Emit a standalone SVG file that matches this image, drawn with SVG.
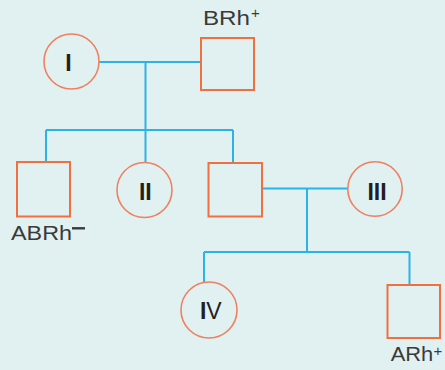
<svg xmlns="http://www.w3.org/2000/svg" width="445" height="370" viewBox="0 0 445 370">
<style>
.bg{fill:#e1f1f2}
.f{fill:none;stroke:#f0805f;stroke-width:1.6}
.m{fill:none;stroke:#f2703f;stroke-width:2}
.c{stroke:#2bb3e8;stroke-width:2;fill:none}
.n{font-family:"Liberation Sans",Arial,sans-serif;font-weight:bold;font-size:23px;fill:#231f20;text-anchor:middle}
.l{font-family:"Liberation Sans",Arial,sans-serif;font-size:20px;fill:#3a3a3a}
.s{font-family:"Liberation Sans",Arial,sans-serif;font-size:15px;fill:#3a3a3a}
</style>
<rect class="bg" x="0" y="0" width="445" height="370"/>
<g id="connectors">
<path class="c" d="M99 62H200"/>
<path class="c" d="M145.5 62V162.5"/>
<path class="c" d="M46 130H233"/>
<path class="c" d="M46 130V162"/>
<path class="c" d="M233 130V163"/>
<path class="c" d="M262 188.5H348"/>
<path class="c" d="M307 188.5V252"/>
<path class="c" d="M204 252H409.5"/>
<path class="c" d="M204 252V282.5"/>
<path class="c" d="M409.5 252V285"/>
</g>
<g id="node-I">
<circle class="f" cx="71.5" cy="61.5" r="27.5"/>
<text class="n" x="68.5" y="70.5">I</text>
</g>
<g id="node-BRh">
<rect class="m" x="201" y="38" width="53" height="52"/>
<text class="l" x="203" y="25" textLength="47" lengthAdjust="spacingAndGlyphs">BRh</text>
<text class="s" x="251" y="17.5">+</text>
</g>
<g id="node-ABRh">
<rect class="m" x="17" y="162" width="53" height="54.5"/>
<text class="l" x="11" y="240" textLength="61" lengthAdjust="spacingAndGlyphs">ABRh</text>
<path d="M72 228.3H85" stroke="#3a3a3a" stroke-width="2.4"/>
</g>
<g id="node-II">
<circle class="f" cx="144.5" cy="190" r="27.5"/>
<text class="n" x="145.3" y="199.5">II</text>
</g>
<g id="node-male2">
<rect class="m" x="208.5" y="163" width="53.5" height="53.5"/>
</g>
<g id="node-III">
<circle class="f" cx="375" cy="189" r="27.2"/>
<text class="n" x="377" y="200">III</text>
</g>
<g id="node-IV">
<circle class="f" cx="209" cy="310" r="28"/>
<text class="n" x="210.8" y="319">I<tspan font-weight="normal">V</tspan></text>
</g>
<g id="node-ARh">
<rect class="m" x="387.5" y="285" width="52.5" height="53"/>
<text class="l" x="390.7" y="361.3" textLength="42.6" lengthAdjust="spacingAndGlyphs">ARh</text>
<text class="s" x="433.5" y="356">+</text>
</g>
</svg>
